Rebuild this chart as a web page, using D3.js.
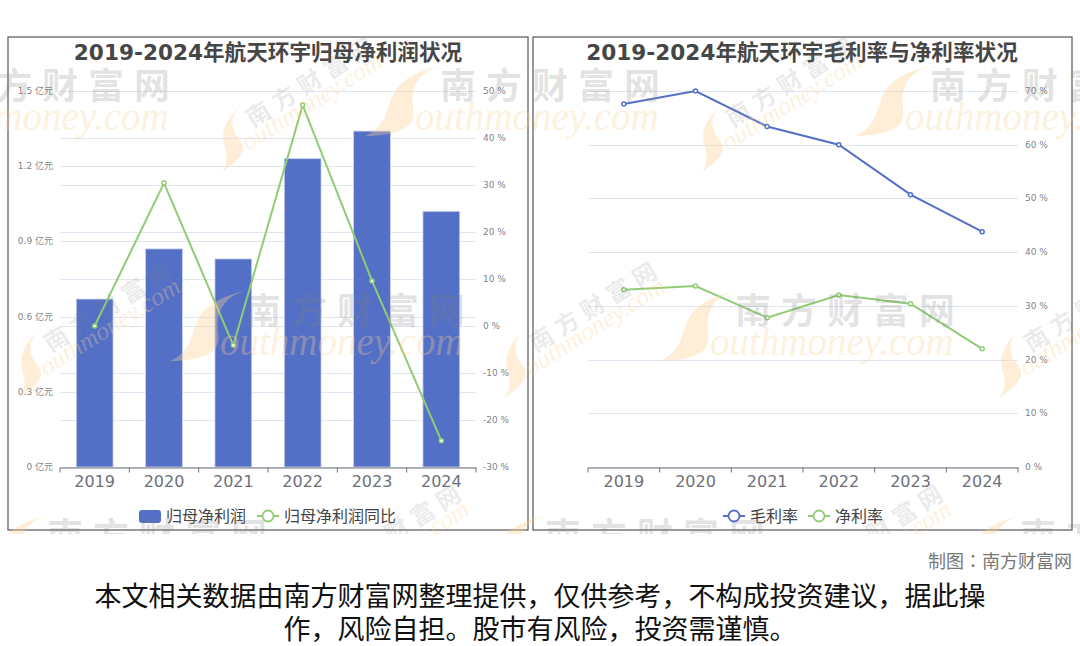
<!DOCTYPE html>
<html><head><meta charset="utf-8">
<script src="https://cdnjs.cloudflare.com/ajax/libs/d3/7.8.5/d3.min.js"></script>
<style>html,body{margin:0;padding:0;background:#fff}svg{display:block}
text{font-family:"DejaVu Sans","Noto Sans CJK SC",sans-serif}</style></head><body>
<svg id="c" width="1080" height="646"></svg>
<script>
const years = ["2019","2020","2021","2022","2023","2024"];
const netProfit = [0.67,0.87,0.83,1.23,1.34,1.02];
const netProfitYoY = [0,30.4,-4.1,47,9.6,-24.4];
const grossMargin = [67.6,70,63.4,60,50.7,43.8];
const netMargin = [33,33.7,27.8,32,30.4,22];
const profitTicks = [0,0.3,0.6,0.9,1.2,1.5];
const yoyTicks = [-30,-20,-10,0,10,20,30,40,50];
const marginTicks = [0,10,20,30,40,50,60,70];
const titleLeft = "2019-2024年航天环宇归母净利润状况";
const titleRight = "2019-2024年航天环宇毛利率与净利率状况";
const credit = "制图：南方财富网";
const disclaimer = ["本文相关数据由南方财富网整理提供，仅供参考，不构成投资建议，据此操","作，风险自担。股市有风险，投资需谨慎。"];

const BLUE="#5470c6", GREEN="#91cc75", GRID="#E0E6F1", AXIS="#6E7079";
const svg=d3.select("#c");

function frame(x,y,w,h){svg.append("rect").attr("x",x).attr("y",y).attr("width",w).attr("height",h).attr("fill","#fff").attr("stroke","#555").attr("stroke-width",1.2);}
frame(8,37,520,493); frame(533,37,539,493);

function grid(g,scale,ticks,x0,x1){
  g.selectAll(null).data(ticks).join("line").attr("x1",x0).attr("x2",x1)
   .attr("y1",d=>Math.round(scale(d))+.5).attr("y2",d=>Math.round(scale(d))+.5).attr("stroke",GRID);
}
function xAxis(g,x,y0){
  const ax=d3.axisBottom(x).tickSizeOuter(0).tickSize(0).tickPadding(8);
  const a=g.append("g").attr("transform",`translate(0,${y0+.5})`).call(ax);
  a.select(".domain").attr("stroke",AXIS);
  a.selectAll("text").attr("fill",AXIS).attr("font-size",16);
  const step=x.step();
  a.selectAll(null).data(d3.range(years.length+1)).join("line")
   .attr("x1",i=>x.range()[0]+i*step).attr("x2",i=>x.range()[0]+i*step).attr("y1",0).attr("y2",5).attr("stroke",AXIS);
}
function yLabels(g,scale,ticks,xp,anchor,fmt){
  g.selectAll(null).data(ticks).join("text").attr("x",xp).attr("y",d=>scale(d)+3)
   .attr("text-anchor",anchor).attr("font-size",9).attr("fill",AXIS).attr("fill-opacity",.9).text(fmt);
}
function series(g,x,y,vals,color){
  const line=d3.line().x((d,i)=>x(years[i])+x.bandwidth()/2).y(d=>y(d));
  g.append("path").attr("d",line(vals)).attr("fill","none").attr("stroke",color).attr("stroke-width",2);
  g.selectAll(null).data(vals).join("circle").attr("cx",(d,i)=>x(years[i])+x.bandwidth()/2).attr("cy",d=>y(d))
   .attr("r",2).attr("fill","#fff").attr("stroke",color).attr("stroke-width",1.5);
}
function title(t,cx){svg.append("text").attr("x",cx).attr("y",60).attr("text-anchor","middle").attr("font-size",21.6).attr("font-weight","bold").attr("fill","#464646").text(t);}
function legendLine(g,x0,y0,label,color){
  g.append("line").attr("x1",x0).attr("x2",x0+22).attr("y1",y0).attr("y2",y0).attr("stroke",color).attr("stroke-width",2);
  g.append("circle").attr("cx",x0+11).attr("cy",y0).attr("r",5.5).attr("fill","#fff").attr("stroke",color).attr("stroke-width",1.8);
  g.append("text").attr("x",x0+27).attr("y",y0+6).attr("font-size",16).attr("fill","#444").text(label);
}

// left chart
{
  const g=svg.append("g");
  const x=d3.scaleBand().domain(years).range([60,476]);
  const y=d3.scaleLinear().domain([0,1.5]).range([467,91]);
  const y2=d3.scaleLinear().domain([-30,50]).range([467,91]);
  grid(g,y,profitTicks,60,476); grid(g,y2,yoyTicks,60,476);
  const bw=x.bandwidth()*.53;
  g.selectAll(null).data(netProfit).join("rect").attr("x",(d,i)=>x(years[i])+(x.bandwidth()-bw)/2).attr("width",bw)
   .attr("y",d=>y(d)).attr("height",d=>467-y(d)).attr("fill",BLUE).attr("stroke","#c6d0ee").attr("stroke-width",.8);
  xAxis(g,x,467);
  yLabels(g,y,profitTicks,53,"end",d=>d+" 亿元");
  yLabels(g,y2,yoyTicks,483,"start",d=>d+" %");
  series(g,x,y2,netProfitYoY,GREEN);
  title(titleLeft,268);
  g.append("rect").attr("x",139).attr("y",510).attr("width",22).attr("height",13).attr("rx",3).attr("fill",BLUE);
  g.append("text").attr("x",166).attr("y",522).attr("font-size",16).attr("fill","#444").text("归母净利润");
  legendLine(g,257,516,"归母净利润同比",GREEN);
}
// right chart
{
  const g=svg.append("g");
  const x=d3.scaleBand().domain(years).range([588,1018]);
  const y=d3.scaleLinear().domain([0,70]).range([467,91]);
  grid(g,y,marginTicks,588,1018);
  xAxis(g,x,467);
  yLabels(g,y,marginTicks,1025,"start",d=>d+" %");
  series(g,x,y,grossMargin,BLUE);
  series(g,x,y,netMargin,GREEN);
  title(titleRight,802);
  legendLine(g,723,516,"毛利率",BLUE);
  legendLine(g,808,516,"净利率",GREEN);
}
// watermark
svg.append("clipPath").attr("id","wmclip").append("rect").attr("x",0).attr("y",0).attr("width",1080).attr("height",534);
const wm=svg.append("g").attr("clip-path","url(#wmclip)").attr("pointer-events","none");
const swoosh="M0 0C10 -4 18 -12 22 -25C28 -42 30 -60 78 -71C58 -66 50 -55 48 -42C46 -30 52 -22 45 -12C36 -2 14 0 0 0Z";
function mark(sel,scale,nameY,greyAlpha){
  const m=sel.append("g").attr("transform",`scale(${scale})`);
  m.append("path").attr("d",swoosh).attr("fill","#fbcf94").attr("fill-opacity",.36);
  m.append("text").attr("x",75).attr("y",nameY).attr("font-size",36).attr("letter-spacing",10).attr("fill","#808080").attr("fill-opacity",greyAlpha)
   .style("font-family","'Noto Sans CJK SC'").attr("font-weight","bold").text("南方财富网");
  m.append("text").attr("x",50).attr("y",-6).attr("font-size",39).attr("font-style","italic").style("font-family","'Liberation Serif'")
   .attr("fill","#fbcf94").attr("fill-opacity",.32).text("outhmoney.com");
}
[[-125,136],[365,136],[855,136],[170,361],[660,361],[-28,586],[470,586],[945,586]].forEach(p=>{
  mark(wm.append("g").attr("transform",`translate(${p[0]},${p[1]})`),1,-37,.22);
});
[[222,172],[702,172],[20,397],[505,397],[1000,397],[309,620],[791,620]].forEach(p=>{
  mark(wm.append("g").attr("transform",`translate(${p[0]},${p[1]}) rotate(-32)`),.66,-32,.17);
});
svg.append("text").attr("x",1072).attr("y",568).attr("text-anchor","end").attr("font-size",18).style("font-family","'Noto Sans CJK TC'").attr("fill","#777").text(credit);
disclaimer.forEach((t,i)=>svg.append("text").attr("x",540).attr("y",606+i*33).attr("text-anchor","middle").attr("font-size",27).style("font-family","'Noto Sans CJK KR','Noto Sans CJK SC'").attr("fill","#111").text(t));
</script></body></html>
